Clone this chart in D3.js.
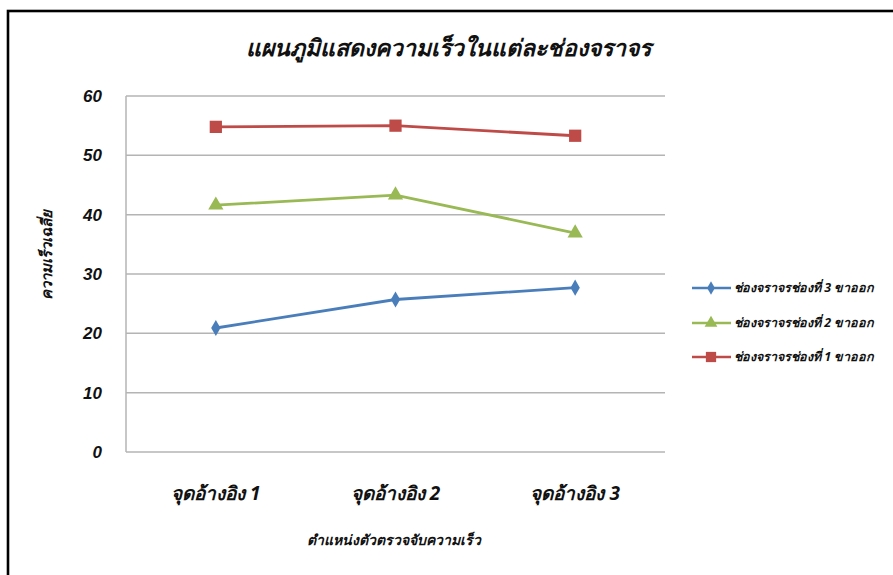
<!DOCTYPE html>
<html>
<head>
<meta charset="utf-8">
<script src="https://cdn.jsdelivr.net/npm/d3@7"></script>
<style>
  html, body { margin: 0; padding: 0; background: #fff; }
  svg { display: block; }
  text { font-family: "Noto Sans", "DejaVu Sans", sans-serif; font-weight: bold; font-style: italic; fill: #111; }
</style>
</head>
<body>
<svg id="chart" width="893" height="575"></svg>
<script>
// Reference points along the road
const categories = ["จุดอ้างอิง 1", "จุดอ้างอิง 2", "จุดอ้างอิง 3"];

// Average speed per lane (outbound)
const lane3 = [20.9, 25.7, 27.7];
const lane2 = [41.6, 43.3, 36.9];
const lane1 = [54.8, 55.0, 53.3];

const seriesNames = ["ช่องจราจรช่องที่ 3 ขาออก", "ช่องจราจรช่องที่ 2 ขาออก", "ช่องจราจรช่องที่ 1 ขาออก"];
const yTicks = [0, 10, 20, 30, 40, 50, 60];

const titleText = "แผนภูมิแสดงความเร็วในแต่ละช่องจราจร";
const yTitle = "ความเร็วเฉลี่ย";
const xTitle = "ตำแหน่งตัวตรวจจับความเร็ว";

const series = [
  { name: seriesNames[0], values: lane3, color: "#4a7ebb", marker: "diamond" },
  { name: seriesNames[1], values: lane2, color: "#98b954", marker: "triangle" },
  { name: seriesNames[2], values: lane1, color: "#be4b48", marker: "square" }
];

const svg = d3.select("#chart");

// outer frame
svg.append("rect")
  .attr("x", 8).attr("y", 11)
  .attr("width", 900).attr("height", 600)
  .attr("fill", "none").attr("stroke", "#000").attr("stroke-width", 2.6);

const plot = { left: 126, right: 665, top: 96, bottom: 452 };

const x = d3.scaleBand().domain(categories).range([plot.left, plot.right]);
const y = d3.scaleLinear().domain([0, 60]).range([plot.bottom, plot.top]);

// gridlines
svg.append("g").selectAll("line").data(yTicks.filter(d => d > 0)).join("line")
  .attr("x1", plot.left).attr("x2", plot.right)
  .attr("y1", d => y(d)).attr("y2", d => y(d))
  .attr("stroke", "#b4b4b4").attr("stroke-width", 1.5);

// axes lines
svg.append("line")
  .attr("x1", plot.left).attr("x2", plot.left)
  .attr("y1", plot.top).attr("y2", plot.bottom)
  .attr("stroke", "#b4b4b4").attr("stroke-width", 1.5);
svg.append("line")
  .attr("x1", plot.left).attr("x2", plot.right)
  .attr("y1", plot.bottom).attr("y2", plot.bottom)
  .attr("stroke", "#b4b4b4").attr("stroke-width", 1.5);

// y tick labels
const yAxis = d3.axisLeft(y).tickValues(yTicks).tickSize(0).tickPadding(24);
const gy = svg.append("g").attr("transform", `translate(${plot.left},0)`).call(yAxis);
gy.select(".domain").remove();
gy.selectAll("text").attr("font-size", 17).style("font-family", "'Liberation Sans', Arial, sans-serif")
  .style("font-weight", "bold").style("font-style", "italic").attr("fill", "#222");

// x category labels
const xAxis = d3.axisBottom(x).tickSize(0).tickPadding(35);
const gx = svg.append("g").attr("transform", `translate(0,${plot.bottom})`).call(xAxis);
gx.select(".domain").remove();
gx.selectAll("text").attr("font-size", 19).style("font-weight", "bold").style("font-style", "italic")
  .attr("fill", "#222");

// markers
const symbolType = { diamond: d3.symbolDiamond, triangle: d3.symbolTriangle, square: d3.symbolSquare };
const symbolSize = { diamond: 75, triangle: 100, square: 150 };

const line = d3.line()
  .x((d, i) => x(categories[i]) + x.bandwidth() / 2)
  .y(d => y(d));

series.forEach(s => {
  svg.append("path")
    .attr("d", line(s.values))
    .attr("fill", "none").attr("stroke", s.color).attr("stroke-width", 2.8);
  svg.append("g").selectAll("path").data(s.values).join("path")
    .attr("transform", (d, i) => `translate(${x(categories[i]) + x.bandwidth() / 2},${y(d)})`)
    .attr("d", d3.symbol().type(symbolType[s.marker]).size(symbolSize[s.marker]))
    .attr("fill", s.color);
});

// legend
const legend = svg.append("g");
const legendRows = d3.scaleOrdinal().domain(seriesNames).range([288, 323, 357]);
series.forEach(s => {
  const ly = legendRows(s.name);
  legend.append("line")
    .attr("x1", 692).attr("x2", 731).attr("y1", ly).attr("y2", ly)
    .attr("stroke", s.color).attr("stroke-width", 2.6);
  legend.append("path")
    .attr("transform", `translate(711,${ly})`)
    .attr("d", d3.symbol().type(symbolType[s.marker]).size(symbolSize[s.marker] * 0.7))
    .attr("fill", s.color);
  legend.append("text")
    .attr("x", 734).attr("y", ly).attr("dy", "0.35em")
    .attr("font-size", 12.5).attr("fill", "#222")
    .text(s.name);
});

// title
svg.append("text")
  .attr("x", 448).attr("y", 48).attr("dy", "0.35em")
  .attr("text-anchor", "middle").attr("font-size", 23)
  .text(titleText);

// y axis title
svg.append("text")
  .attr("transform", "translate(47,255) rotate(-90)")
  .attr("text-anchor", "middle").attr("dy", "0.35em")
  .attr("font-size", 15)
  .text(yTitle);

// x axis title
svg.append("text")
  .attr("x", 394).attr("y", 540).attr("dy", "0.35em")
  .attr("text-anchor", "middle").attr("font-size", 14)
  .text(xTitle);
</script>
</body>
</html>
